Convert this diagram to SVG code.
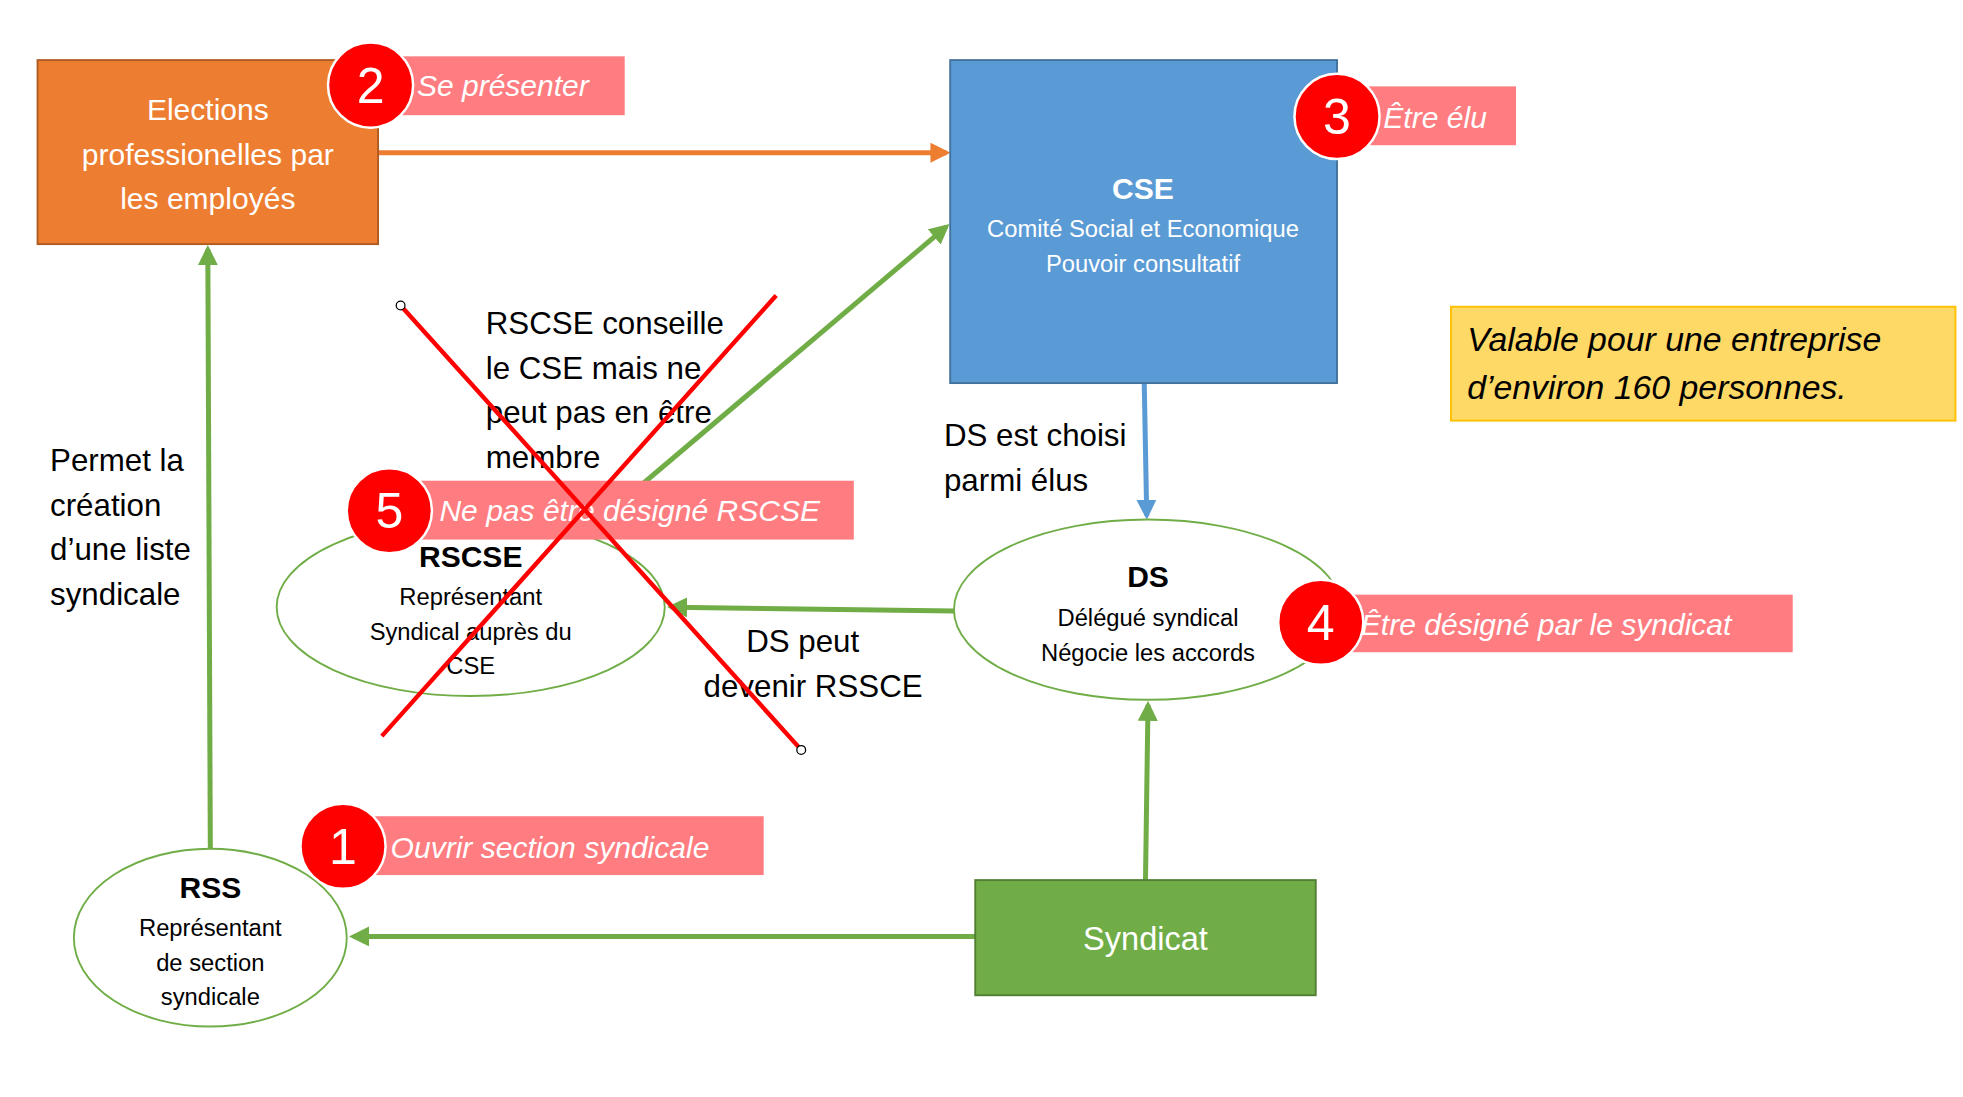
<svg xmlns="http://www.w3.org/2000/svg" width="1963" height="1097" viewBox="0 0 1963 1097">
<style>
text{font-family:"Liberation Sans",Arial,sans-serif}
.w{fill:#fff;text-anchor:middle}
.b{fill:#000}
.c{text-anchor:middle;fill:#000}
.lbl{fill:#FF7C80}
.lt{fill:#fff;font-style:italic;font-size:24px}
.bc{fill:#FF0000;stroke:#fff;stroke-width:2}
.bn{fill:#fff;font-size:40px;text-anchor:middle}
.g{stroke:#70AD47;stroke-width:4;fill:none;marker-end:url(#ag)}
.ell{fill:#fff;stroke:#70AD47;stroke-width:1.5}
.x{stroke:#FF0000;stroke-width:3.5}
</style>
<defs>
<marker id="ag" viewBox="0 0 10 10" refX="8" refY="5" markerWidth="4" markerHeight="4" orient="auto"><path d="M0,0L10,5L0,10z" fill="#70AD47"/></marker>
<marker id="ao" viewBox="0 0 10 10" refX="8" refY="5" markerWidth="4" markerHeight="4" orient="auto"><path d="M0,0L10,5L0,10z" fill="#ED7D31"/></marker>
<marker id="ab" viewBox="0 0 10 10" refX="8" refY="5" markerWidth="4" markerHeight="4" orient="auto"><path d="M0,0L10,5L0,10z" fill="#5B9BD5"/></marker>
</defs>
<rect width="1963" height="1097" fill="#fff"/>
<g transform="scale(1.2519)">
<g id="connectors">
<line x1="302" y1="122" x2="756" y2="122" stroke="#ED7D31" stroke-width="4" marker-end="url(#ao)"/>
<line x1="914" y1="306" x2="916" y2="412" stroke="#5B9BD5" stroke-width="4" marker-end="url(#ab)"/>
<line class="g" x1="762" y1="488" x2="536" y2="485"/>
<line class="g" x1="488" y1="408" x2="756" y2="181"/>
<line class="g" x1="168" y1="678" x2="166" y2="199"/>
<line class="g" x1="779" y1="748" x2="282" y2="748"/>
<line class="g" x1="915" y1="703" x2="917" y2="563"/>
</g>
<g id="elections">
<rect x="30" y="48" width="272" height="147" fill="#ED7D31" stroke="#AE5A21" stroke-width="1.5"/>
<text class="w" font-size="24"><tspan x="166" y="96">Elections</tspan><tspan x="166" y="132">professionelles par</tspan><tspan x="166" y="167">les employés</tspan></text>
</g>
<g id="cse">
<rect x="759" y="48" width="309" height="258" fill="#5B9BD5" stroke="#41719C" stroke-width="1.5"/>
<text class="w" font-size="24" font-weight="bold" x="913" y="159">CSE</text>
<text class="w" font-size="19"><tspan x="913" y="189">Comité Social et Economique</tspan><tspan x="913" y="217">Pouvoir consultatif</tspan></text>
</g>
<g id="note">
<rect x="1159" y="245" width="403" height="91" fill="#FFD966" stroke="#FFC000" stroke-width="1.5"/>
<text font-size="27" font-style="italic" class="b"><tspan x="1172" y="280">Valable pour une entreprise</tspan><tspan x="1172" y="319">d’environ 160 personnes.</tspan></text>
</g>
<g id="ds">
<ellipse class="ell" cx="917" cy="487" rx="155" ry="72"/>
<text class="c" font-size="24" font-weight="bold" x="917" y="469">DS</text>
<text class="c" font-size="19"><tspan x="917" y="500">Délégué syndical</tspan><tspan x="917" y="528">Négocie les accords</tspan></text>
</g>
<g id="rscse">
<ellipse class="ell" cx="376" cy="485" rx="155" ry="71"/>
<text class="c" font-size="24" font-weight="bold" x="376" y="453">RSCSE</text>
<text class="c" font-size="19"><tspan x="376" y="483">Représentant</tspan><tspan x="376" y="511">Syndical auprès du</tspan><tspan x="376" y="538">CSE</tspan></text>
</g>
<g id="rss">
<ellipse class="ell" cx="168" cy="749" rx="109" ry="71"/>
<text class="c" font-size="24" font-weight="bold" x="168" y="717">RSS</text>
<text class="c" font-size="19"><tspan x="168" y="748">Représentant</tspan><tspan x="168" y="776">de section</tspan><tspan x="168" y="803">syndicale</tspan></text>
</g>
<g id="syndicat">
<rect x="779" y="703" width="272" height="92" fill="#70AD47" stroke="#507E32" stroke-width="1.5"/>
<text class="w" font-size="26" x="915" y="759">Syndicat</text>
</g>
<g id="texts" font-size="25" class="b">
<text><tspan x="754" y="356">DS est choisi</tspan><tspan x="754" y="392">parmi élus</tspan></text>
<text><tspan x="596" y="521">DS peut</tspan><tspan x="562" y="557">devenir RSSCE</tspan></text>
<text><tspan x="388" y="267">RSCSE conseille</tspan><tspan x="388" y="303">le CSE mais ne</tspan><tspan x="388" y="338">peut pas en être</tspan><tspan x="388" y="374">membre</tspan></text>
<text><tspan x="40" y="376">Permet la</tspan><tspan x="40" y="412">création</tspan><tspan x="40" y="447">d’une liste</tspan><tspan x="40" y="483">syndicale</tspan></text>
</g>
<g id="badge2">
<rect class="lbl" x="300" y="45" width="199" height="47"/>
<text class="lt" x="333" y="77">Se présenter</text>
<circle class="bc" cx="296" cy="68" r="34"/><text class="bn" x="296" y="82">2</text>
</g>
<g id="badge3">
<rect class="lbl" x="1070" y="69" width="141" height="47"/>
<text class="lt" x="1105" y="102">Être élu</text>
<circle class="bc" cx="1068" cy="93" r="34"/><text class="bn" x="1068" y="107">3</text>
</g>
<g id="badge4">
<rect class="lbl" x="1060" y="475" width="372" height="46"/>
<text class="lt" x="1087" y="507">Être désigné par le syndicat</text>
<circle class="bc" cx="1055" cy="497" r="34"/><text class="bn" x="1055" y="511">4</text>
</g>
<g id="badge5">
<rect class="lbl" x="320" y="384" width="362" height="47"/>
<text class="lt" x="351" y="416">Ne pas être désigné RSCSE</text>
<circle class="bc" cx="311" cy="408" r="34"/><text class="bn" x="311" y="422">5</text>
</g>
<g id="badge1">
<rect class="lbl" x="280" y="652" width="330" height="47"/>
<text class="lt" x="312" y="685">Ouvrir section syndicale</text>
<circle class="bc" cx="274" cy="676" r="34"/><text class="bn" x="274" y="690">1</text>
</g>
<g id="cross">
<line class="x" x1="320" y1="244" x2="640" y2="599"/>
<line class="x" x1="620" y1="236" x2="305" y2="588"/>
<circle cx="320" cy="244" r="3.5" fill="#fff" stroke="#000"/>
<circle cx="640" cy="599" r="3.5" fill="#fff" stroke="#000"/>
</g>
</g>
</svg>
